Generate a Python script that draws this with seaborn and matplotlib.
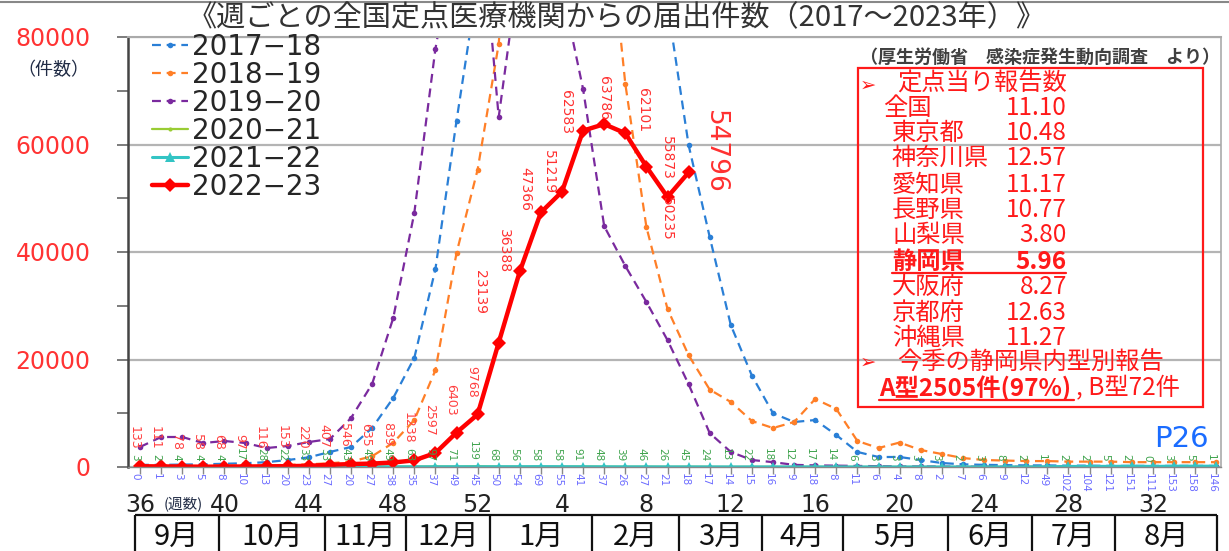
import matplotlib
matplotlib.use("Agg")
import matplotlib.pyplot as plt
import seaborn as sns
import pandas as pd
from matplotlib import font_manager
from matplotlib.lines import Line2D
from matplotlib.patches import Rectangle

# ---------------- data ----------------
weeks = [36, 37, 38, 39, 40, 41, 42, 43, 44, 45, 46, 47, 48, 49, 50, 51, 52,
         1, 2, 3, 4, 5, 6, 7, 8, 9, 10, 11, 12, 13, 14, 15, 16, 17, 18, 19,
         20, 21, 22, 23, 24, 25, 26, 27, 28, 29, 30, 31, 32, 33, 34, 35]
week_ticks = [36, 40, 44, 48, 52, 4, 8, 12, 16, 20, 24, 28, 32]
months = ["9月", "10月", "11月", "12月", "1月", "2月", "3月", "4月", "5月", "6月", "7月", "8月"]
# month boundaries expressed in week-position units
month_edges = [-0.24, 3.74, 8.77, 12.61, 16.59, 21.42, 25.55, 29.48, 33.32, 38.29, 42.27, 46.21, 51.04]

seasons = ["2017−18", "2018−19", "2019−20", "2020−21", "2021−22", "2022−23"]

s2017_18 = [400, 400, 450, 500, 600, 700, 900, 1300, 1800, 2800,
            3720, 7250, 12840, 20300, 36800, 64400, 90000, 110000, 140000, 180000,
            220000, 260000, 280000, 200000, 120000, 86000, 59900, 42800, 26400, 17000,
            10000, 8370, 8740, 5950, 2800, 1860, 1860, 1300, 740, 500,
            400, 350, 300, 300, 250, 250, 200, 200, 200, 200,
            200, 200]
s2018_19 = [200, 200, 200, 250, 250, 300, 300, 400, 500, 700,
            1000, 2000, 4500, 8740, 18000, 39800, 55300, 78700, 130000, 200000,
            220000, 180000, 110000, 71300, 44650, 29400, 20800, 14400, 12100, 8560,
            7250, 8370, 12650, 10800, 4840, 3530, 4550, 3160, 2420, 1670,
            1300, 1200, 1100, 1100, 1000, 1000, 1000, 900, 900, 900,
            900, 900]
s2019_20 = [3720, 5580, 5580, 4460, 4840, 4460, 3530, 3900, 4650, 5200,
            9100, 15440, 27700, 47260, 77770, 100000, 110000, 65100, 94000, 92000,
            89000, 70300, 44800, 37400, 30700, 23600, 15400, 6300, 2800, 1300,
            900, 400, 300, 250, 200, 150, 100, 100, 80, 60,
            50, 40, 30, 30, 20, 20, 20, 10, 10, 10,
            10, 10]
s2020_21 = [3, 2, 4, 4, 4, 17, 28, 22, 33, 33, 43, 49, 49, 63, 97, 71, 139,
            68, 56, 58, 58, 91, 48, 39, 46, 26, 45, 24, 13, 22, 18, 12, 17, 14, 6,
            3, 3, 3, 3, 2, 3, 8, 2, 1, 2, 2, 5, 2, 0, 3, 5, 1]
s2021_22 = [0, 1, 3, 5, 8, 10, 13, 20, 23, 27, 20, 27, 38, 35,
            37, 49, 45, 50, 54, 69, 55, 41, 37, 26, 27, 21, 18, 17,
            14, 15, 16, 9, 18, 8, 11, 6, 4, 8,
            2, 7, 6, 9, 12, 49, 102, 104, 121, 151, 111, 153, 158, 146]
s2022_23 = [133, 111, 78, 58, 68, 97, 116, 153, 220, 407, 546, 635, 839, 1238,
            2597, 6403, 9768, 23139, 36388, 47366, 51219, 62583, 63786, 62101,
            55873, 50235, 54796]

rate_regions = ["全国", "東京都", "神奈川県", "愛知県", "長野県", "山梨県",
                "静岡県", "大阪府", "京都府", "沖縄県"]
rate_values = [11.10, 10.48, 12.57, 11.17, 10.77, 3.80, 5.96, 8.27, 12.63, 11.27]
type_a_count, type_a_pct, type_b_count = 2505, 97, 72

# ---------------- style ----------------
sns.set_style("white")
plt.rcParams["font.family"] = ["DejaVu Sans", "Noto Sans CJK JP"]
JP = ["Noto Sans CJK JP", "DejaVu Sans"]
avail = {f.name for f in font_manager.fontManager.ttflist}
if "Liberation Sans Narrow" in avail:
    NARROW = ["Liberation Sans Narrow", "DejaVu Sans"]
    lab_small, lab_big, lab_huge, lab_tiny = 11, 12, 24, 10
else:
    NARROW = ["DejaVu Sans"]
    lab_small, lab_big, lab_huge, lab_tiny = 9, 10, 19, 7.5

W, H = 1229, 551
fig = plt.figure(figsize=(W / 100, H / 100), dpi=100)
fig.patch.set_facecolor("white")
AX_L, AX_R, AX_T, AX_B = 128, 1221, 37, 467
ax = fig.add_axes([AX_L / W, 1 - AX_B / H, (AX_R - AX_L) / W, (AX_B - AX_T) / H])

pos = list(range(len(weeks)))
styles = [
    dict(color="#2a7fd6", lw=1.6, linestyle=(0, (4, 2.6)), marker="o", markersize=4),
    dict(color="#ff7f27", lw=1.6, linestyle=(0, (4, 2.6)), marker="o", markersize=4),
    dict(color="#7a2a9e", lw=1.6, linestyle=(0, (4, 2.6)), marker="o", markersize=4),
    dict(color="#99cc33", lw=1.6, linestyle="-", marker="o", markersize=3),
    dict(color="#33c4c4", lw=2.2, linestyle="-", marker="^", markersize=6.5),
    dict(color="#ff0000", lw=3.2, linestyle="-", marker="D", markersize=7),
]
series = [s2017_18, s2018_19, s2019_20, s2020_21, s2021_22, s2022_23]
handles = []
for vals, st, name in zip(series, styles, seasons):
    df = pd.DataFrame({"pos": pos[:len(vals)], "count": vals})
    sns.lineplot(data=df, x="pos", y="count", ax=ax, errorbar=None,
                 markeredgewidth=0, legend=False, **st)
    handles.append(ax.lines[-1])

ax.set_xlim((AX_L - 140) / 21.1, (AX_R - 140) / 21.1)
ax.set_ylim(0, 80000)
ax.set_xlabel("")
ax.set_ylabel("")

# y axis
ax.set_yticks([0, 20000, 40000, 60000, 80000])
ax.set_yticks([10000, 30000, 50000, 70000], minor=True)
ax.set_yticklabels(["0", "20000", "40000", "60000", "80000"])
ax.tick_params(axis="y", which="both", direction="out", length=8, width=1.2,
               color="#666666", left=True)
ax.tick_params(axis="y", which="major", labelsize=17, labelcolor="#ff3333", pad=19)
ax.yaxis.grid(True, which="major", color="#b4b4b4", lw=1.6)
ax.set_axisbelow(True)

# x axis
tick_pos = [weeks.index(w) for w in week_ticks]
ax.set_xticks(tick_pos)
ax.set_xticklabels([str(w) for w in week_ticks])
ax.set_xticks(pos, minor=True)
ax.tick_params(axis="x", which="both", direction="out", length=5, width=1,
               color="#888888", bottom=True)
ax.tick_params(axis="x", which="major", labelsize=17, labelcolor="#222222", pad=14)

for side, c, lw in [("left", "#444444", 1.8), ("bottom", "#888888", 1.0),
                    ("top", "#aaaaaa", 1.5), ("right", "#aaaaaa", 1.2)]:
    ax.spines[side].set_color(c)
    ax.spines[side].set_linewidth(lw)
    ax.spines[side].set_visible(True)

# value labels of 2022-23
big_offsets = {17: (-19, 51), 18: (-16, 20), 19: (-16, 23), 20: (-13, 20), 21: (-17, 19),
               22: (0, 26), 23: (18, 23), 24: (21, 9), 25: (-1, -22), 26: (26, 21)}
for i, v in enumerate(s2022_23):
    if i in big_offsets:
        dx, dy = big_offsets[i]
        ax.annotate(str(v), xy=(i, v), xytext=(dx, dy), textcoords="offset pixels",
                    rotation=-90, ha="center", va="center", color="#ff3030",
                    fontsize=lab_huge if i == len(s2022_23) - 1 else lab_big,
                    family=NARROW, annotation_clip=False)
    else:
        ax.annotate(str(v), xy=(i, v), xytext=(-6, 17), textcoords="offset pixels",
                    rotation=-90, ha="center", va="bottom", color="#ff4040",
                    fontsize=lab_small, family=NARROW, annotation_clip=False)

for i, v in enumerate(s2020_21):
    ax.text(i - 0.25, 1100, str(v), rotation=-90, ha="center", va="bottom",
            color="#3fa34d", fontsize=lab_tiny, family=NARROW, clip_on=False)
for i, v in enumerate(s2021_22):
    ax.text(i - 0.2, -1100, str(v), rotation=-90, ha="center", va="top",
            color="#6b6bff", fontsize=lab_tiny, family=NARROW, clip_on=False)

# legend
ax.legend(handles, seasons, loc="upper left", bbox_to_anchor=(152 / W, 1 - 33 / H),
          bbox_transform=fig.transFigure, frameon=False, fontsize=20,
          handlelength=1.3, handletextpad=0.15, labelspacing=0.0,
          borderpad=0, borderaxespad=0, numpoints=1)

# ---------------- figure texts ----------------
def fx(px):
    return px / W

def fy(py):
    return 1 - py / H

fig.add_artist(Line2D([0, 1], [fy(2), fy(2)], color="#888888", lw=1.5,
                      transform=fig.transFigure))
fig.text(fx(617), fy(18), "《週ごとの全国定点医療機関からの届出件数（2017～2023年）》",
         ha="center", va="center", fontsize=21, color="#333333", family=JP)
fig.text(fx(53), fy(70), "（件数）", ha="center", va="center", fontsize=13,
         color="#1f2a44", family=JP)
fig.text(fx(183), fy(505), "(週数)", ha="center", va="center", fontsize=10.5,
         color="#1f2a44", family=JP)
fig.text(fx(1220), fy(57), "（厚生労働省　感染症発生動向調査　より）", ha="right",
         va="center", fontsize=13, fontweight="bold", color="#404040", family=JP)
fig.text(fx(1209), fy(439), "P26", ha="right", va="center", fontsize=21,
         color="#1a6cff")

# red info box
RED = "#ff1a1a"
FS = 17.5
fig.add_artist(Rectangle((fx(858), fy(407)), (1203 - 858) / W, (407 - 68) / H,
                         transform=fig.transFigure, fill=False, edgecolor=RED, lw=1.6))
fig.text(fx(860), fy(85), "➢", ha="left", va="center", fontsize=14, color=RED,
         family=["DejaVu Sans"])
fig.text(fx(897), fy(84), "定点当り報告数", ha="left", va="center", fontsize=FS,
         color=RED, family=JP)
row_y = [108, 133, 158, 185, 210, 235, 262, 287, 313, 338]
for name, val, yy in zip(rate_regions, rate_values, row_y):
    bold = name == "静岡県"
    x0 = 883 if name == "全国" else 892
    fig.text(fx(x0), fy(yy), name, ha="left", va="center", fontsize=FS, color=RED,
             family=JP, fontweight="bold" if bold else "normal")
    fig.text(fx(1067), fy(yy), f"{val:.2f}", ha="right", va="center", fontsize=FS,
             color=RED, family=JP, fontweight="bold" if bold else "normal")
fig.add_artist(Line2D([fx(892), fx(1066)], [fy(273), fy(273)], color=RED, lw=1.6,
                      transform=fig.transFigure))
fig.text(fx(860), fy(362), "➢", ha="left", va="center", fontsize=14, color=RED,
         family=["DejaVu Sans"])
fig.text(fx(897), fy(362), "今季の静岡県内型別報告", ha="left", va="center",
         fontsize=FS, color=RED, family=JP)
fig.text(fx(879), fy(388), f"A型{type_a_count}件({type_a_pct}%)", ha="left",
         va="center", fontsize=FS, color=RED, family=JP, fontweight="bold")
fig.text(fx(1076), fy(388), f", B型{type_b_count}件", ha="left", va="center",
         fontsize=FS, color=RED, family=JP)
fig.add_artist(Line2D([fx(879), fx(1074)], [fy(400), fy(400)], color=RED, lw=1.6,
                      transform=fig.transFigure))

# month row
mx = fig.add_axes([AX_L / W, 0, (AX_R - AX_L) / W, (551 - 515) / H])
mx.set_xlim(ax.get_xlim())
mx.set_ylim(0, 1)
mx.axis("off")
mx.hlines(1, month_edges[0], month_edges[-1], color="#111111", lw=1.6, clip_on=False)
mx.vlines(month_edges, 0, 1, color="#111111", lw=1.6, clip_on=False)
for m, a, b in zip(months, month_edges[:-1], month_edges[1:]):
    mx.text((a + b) / 2, 0.38, m, ha="center", va="center", fontsize=21,
            color="#111111", family=JP)

fig.savefig("out.png", dpi=100, facecolor="white")
